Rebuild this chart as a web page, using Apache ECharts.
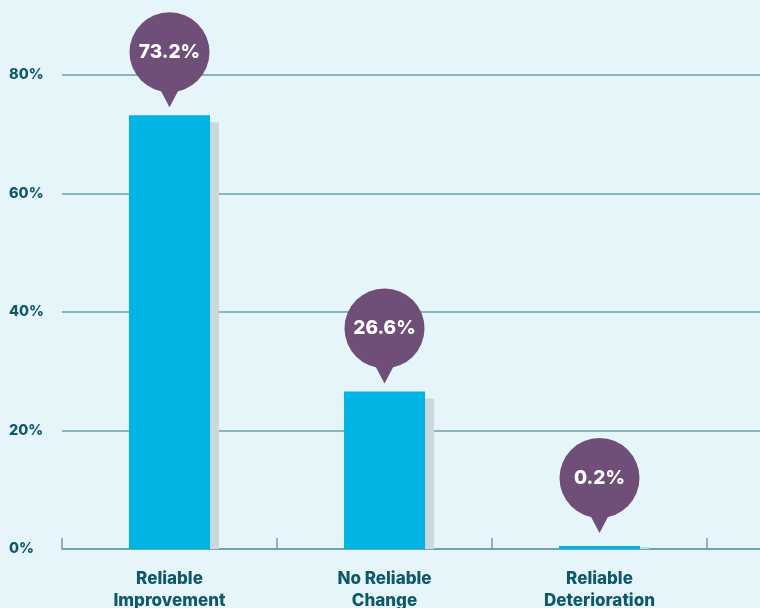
<!DOCTYPE html>
<html>
<head>
<meta charset="utf-8">
<script src="https://cdn.jsdelivr.net/npm/echarts@6/dist/echarts.min.js"></script>
<style>
html,body{margin:0;padding:0;background:#e6f5fa;}
#chart{width:760px;height:608px;}
</style>
</head>
<body>
<div id="chart"></div>
<script>
const categories = ['Reliable\nImprovement', 'No Reliable\nChange', 'Reliable\nDeterioration', ''];
const values = [73.2, 26.6, 0.2];
const valueLabels = ['73.2%', '26.6%', '0.2%'];
const yTicks = [0, 20, 40, 60, 80, 100];

const chart = echarts.init(document.getElementById('chart'));
const textColor = '#0f5868';
const lineColor = '#6a9fab';
const fontFam = 'Inter, Lato, sans-serif';

const data = values.map((v, i) => [i, v, valueLabels[i]]);

chart.setOption({
  backgroundColor: '#e6f5fa',
  animation: false,
  grid: { left: 62, right: -162, top: -43.5, bottom: 59, outerBoundsMode: 'none', containLabel: false },
  xAxis: {
    type: 'category',
    data: categories,
    boundaryGap: true,
    axisLine: { show: true, lineStyle: { color: lineColor, width: 1.5 } },
    axisTick: { show: true, inside: true, length: 11, lineStyle: { color: lineColor, width: 1.5 } },
    axisLabel: {
      color: textColor, fontFamily: fontFam, fontWeight: 800, fontSize: 17,
      lineHeight: 22, margin: 19, interval: 0
    },
    splitLine: { show: false }
  },
  yAxis: {
    type: 'value',
    min: yTicks[0], max: yTicks[yTicks.length - 1], interval: 20,
    axisLine: { show: false },
    axisTick: { show: false },
    axisLabel: {
      formatter: v => v + '%', color: textColor, fontFamily: fontFam, fontWeight: 800,
      fontSize: 14.5, align: 'left', margin: 53
    },
    splitLine: { show: true, lineStyle: { color: lineColor, width: 1.5 } }
  },
  series: [{
    type: 'custom',
    clip: false,
    data: data,
    encode: { x: 0, y: 1 },
    renderItem: function (params, api) {
      const idx = api.value(0);
      const v = api.value(1);
      const top = api.coord([idx, v]);
      const base = api.coord([idx, 0]);
      const band = api.size([1, 0])[0];
      const bw = band * 0.377;
      const x0 = top[0] - bw / 2;
      const barTop = Math.min(top[1], base[1] - 3);
      const shTop = Math.min(top[1] + 7, base[1] - 2);
      const tipY = Math.min(top[1] - 8, base[1] - 16);
      const cx = top[0];
      const cy = tipY - 55;
      const r = 40;
      const purple = '#6f4e77';
      return {
        type: 'group',
        children: [
          { type: 'rect', shape: { x: x0 + 9, y: shTop, width: bw, height: base[1] - shTop }, style: { fill: '#cbd8dc' } },
          { type: 'rect', shape: { x: x0, y: barTop, width: bw, height: base[1] - barTop }, style: { fill: '#00b4e4' } },
          { type: 'polygon', shape: { points: [[cx - 10, cy + r - 4], [cx + 10, cy + r - 4], [cx, tipY]] }, style: { fill: purple } },
          { type: 'circle', shape: { cx: cx, cy: cy, r: r }, style: { fill: purple } },
          { type: 'text', x: cx, y: cy, style: {
              text: api.value(2), fill: '#ffffff', fontFamily: fontFam, fontWeight: 800, fontSize: 19,
              align: 'center', verticalAlign: 'middle'
          } }
        ]
      };
    }
  }]
});
</script>
</body>
</html>
